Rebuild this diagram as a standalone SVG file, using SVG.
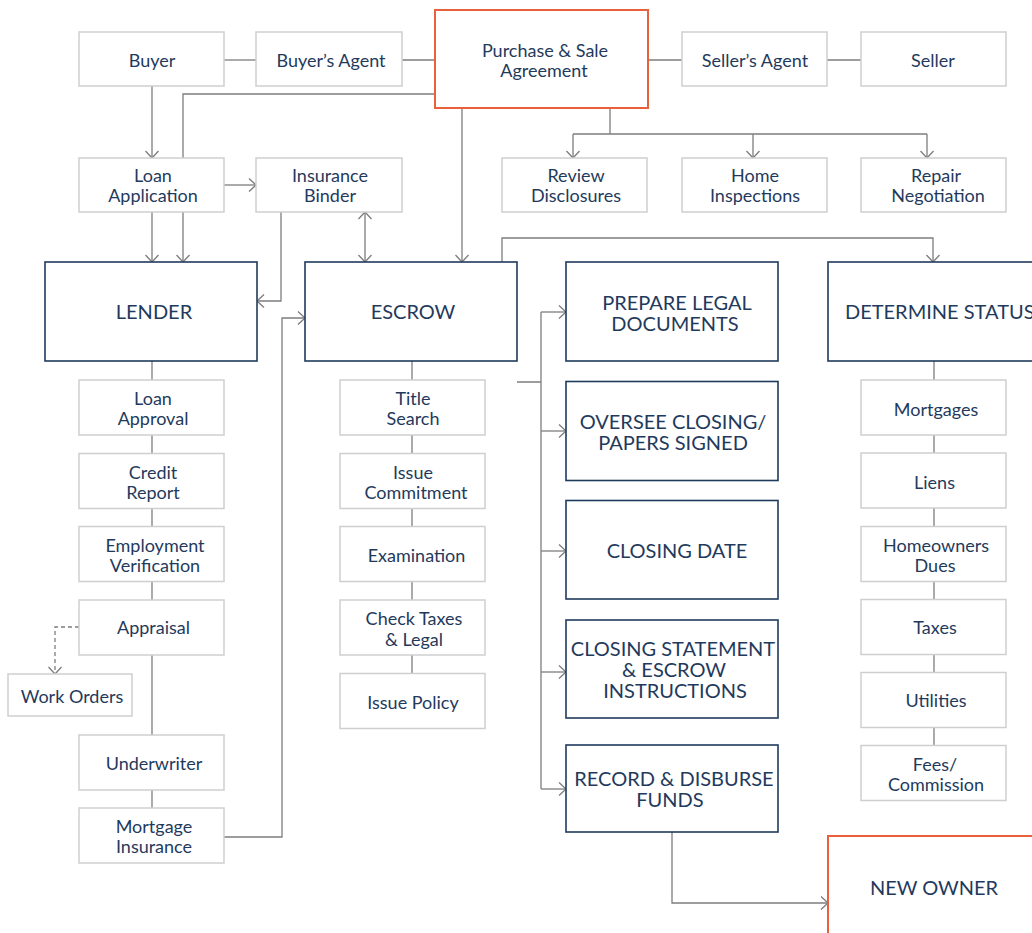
<svg xmlns="http://www.w3.org/2000/svg" width="1032" height="933" viewBox="0 0 1032 933">
<defs>
<style>
.s{fill:#fff;stroke:#cfcfcf;stroke-width:1.5}
.b{fill:#fff;stroke:#1e3a5c;stroke-width:1.6}
.o{fill:#fff;stroke:#e8613c;stroke-width:2}
.t{font-family:Lato,"Liberation Sans",sans-serif;font-size:18px;fill:#1f3a5c;text-anchor:middle}
.T{font-family:Lato,"Liberation Sans",sans-serif;font-size:20px;fill:#1f3a5c;text-anchor:middle}
.c{fill:none;stroke:#7d7d7d;stroke-width:1.3}
.a{marker-end:url(#ar)}
.d{stroke-dasharray:4 3}
</style>
<marker id="ar" markerUnits="userSpaceOnUse" viewBox="-8 -8 10 16" markerWidth="10" markerHeight="16" refX="0" refY="0" orient="auto-start-reverse">
<path d="M-7,-6.5 L0,0 L-7,6.5" fill="none" stroke="#7d7d7d" stroke-width="1.3"/>
</marker>
</defs>
<rect width="1032" height="933" fill="#fff"/>
<g id="connectors">
<path class="c" d="M224,60 H256"/>
<path class="c" d="M402,60 H435"/>
<path class="c" d="M648,60 H682"/>
<path class="c" d="M827,60 H861"/>
<path class="c a" d="M152,86 V158"/>
<path class="c" d="M435,94 H183 V158"/>
<path class="c a" d="M152,212 V262"/>
<path class="c a" d="M183,212 V262"/>
<path class="c a" d="M224,185 H256"/>
<path class="c a" d="M281,212 V301 H257"/>
<path class="c a" style="marker-start:url(#ar)" d="M365,212 V262"/>
<path class="c a" d="M462,108 V262"/>
<path class="c" d="M610,108 V134 M573,134 H927"/>
<path class="c a" d="M573,134 V158"/>
<path class="c a" d="M753,134 V158"/>
<path class="c a" d="M927,134 V158"/>
<path class="c a" d="M502,262 V238 H933 V262"/>
<path class="c" d="M152,361 V808"/>
<path class="c d a" d="M79,627 H55 V674"/>
<path class="c a" d="M224,837 H282 V318 H305"/>
<path class="c" d="M412,361 V673"/>
<path class="c" d="M405,356 L412,349 L419,356"/>
<path class="c" d="M517,382 H541 M541,312 V789"/>
<path class="c a" d="M541,312 H566"/>
<path class="c a" d="M541,431 H566"/>
<path class="c a" d="M541,551 H566"/>
<path class="c a" d="M541,672 H566"/>
<path class="c a" d="M541,789 H566"/>
<path class="c" d="M934,361 V745"/>
<path class="c a" d="M672,832 V903 H828"/>
</g>
<g id="buyer"><rect class="s" x="79" y="32" width="145" height="54"/><text class="t" x="152" y="67">Buyer</text></g>
<g id="buyers-agent"><rect class="s" x="256" y="32" width="146" height="54"/><text class="t" x="331" y="67">Buyer’s Agent</text></g>
<g id="purchase"><rect class="o" x="435" y="10" width="213" height="98"/><text class="t" x="545" y="57">Purchase &amp; Sale</text><text class="t" x="544" y="77">Agreement</text></g>
<g id="sellers-agent"><rect class="s" x="682" y="32" width="145" height="54"/><text class="t" x="755" y="67">Seller’s Agent</text></g>
<g id="seller"><rect class="s" x="861" y="32" width="145" height="54"/><text class="t" x="933" y="67">Seller</text></g>
<g id="loan-application"><rect class="s" x="79" y="158" width="145" height="54"/><text class="t" x="153" y="182">Loan</text><text class="t" x="153" y="202">Application</text></g>
<g id="insurance-binder"><rect class="s" x="256" y="158" width="146" height="54"/><text class="t" x="330" y="182">Insurance</text><text class="t" x="330" y="202">Binder</text></g>
<g id="review"><rect class="s" x="502" y="158" width="145" height="54"/><text class="t" x="576" y="182">Review</text><text class="t" x="576" y="202">Disclosures</text></g>
<g id="home"><rect class="s" x="682" y="158" width="145" height="54"/><text class="t" x="755" y="182">Home</text><text class="t" x="755" y="202">Inspections</text></g>
<g id="repair"><rect class="s" x="861" y="158" width="145" height="54"/><text class="t" x="936" y="182">Repair</text><text class="t" x="938" y="202">Negotiation</text></g>
<g id="lender"><rect class="b" x="45" y="262" width="212" height="99"/><text class="T" x="154" y="319">LENDER</text></g>
<g id="escrow"><rect class="b" x="305" y="262" width="212" height="99"/><text class="T" x="413" y="319">ESCROW</text></g>
<g id="prepare"><rect class="b" x="566" y="262" width="212" height="99"/><text class="T" x="677" y="309.5">PREPARE LEGAL</text><text class="T" x="675" y="330.5">DOCUMENTS</text></g>
<g id="oversee"><rect class="b" x="566" y="381.5" width="212" height="99"/><text class="T" x="673" y="428.5">OVERSEE CLOSING/</text><text class="T" x="673" y="449.5">PAPERS SIGNED</text></g>
<g id="closing-date"><rect class="b" x="566" y="500.5" width="212" height="98.5"/><text class="T" x="677" y="557.5">CLOSING DATE</text></g>
<g id="closing-statement"><rect class="b" x="566" y="620" width="212" height="98"/><text class="T" x="673" y="656">CLOSING STATEMENT</text><text class="T" x="674" y="677">&amp; ESCROW</text><text class="T" x="675" y="698">INSTRUCTIONS</text></g>
<g id="record"><rect class="b" x="566" y="745" width="212" height="87"/><text class="T" x="674" y="786">RECORD &amp; DISBURSE</text><text class="T" x="670" y="807">FUNDS</text></g>
<g id="determine"><rect class="b" x="828" y="262" width="220" height="99"/><text class="T" x="845" y="319" style="text-anchor:start">DETERMINE STATUS</text></g>
<g id="new-owner"><rect class="o" x="828" y="836" width="220" height="120"/><text class="T" x="934" y="895">NEW OWNER</text></g>
<g id="loan-approval"><rect class="s" x="79" y="380" width="145" height="55"/><text class="t" x="153" y="405">Loan</text><text class="t" x="153" y="425">Approval</text></g>
<g id="credit-report"><rect class="s" x="79" y="453.5" width="145" height="55"/><text class="t" x="153" y="478.5">Credit</text><text class="t" x="153" y="498.5">Report</text></g>
<g id="employment"><rect class="s" x="79" y="526.5" width="145" height="55"/><text class="t" x="155" y="551.5">Employment</text><text class="t" x="155" y="571.5">Verification</text></g>
<g id="appraisal"><rect class="s" x="79" y="600" width="145" height="55"/><text class="t" x="153.5" y="634">Appraisal</text></g>
<g id="work-orders"><rect class="s" x="8" y="674" width="124" height="42"/><text class="t" x="72" y="702.5">Work Orders</text></g>
<g id="underwriter"><rect class="s" x="79" y="735" width="145" height="55"/><text class="t" x="154" y="770">Underwriter</text></g>
<g id="mortgage-insurance"><rect class="s" x="79" y="808" width="145" height="55"/><text class="t" x="154" y="833">Mortgage</text><text class="t" x="154" y="853">Insurance</text></g>
<g id="title-search"><rect class="s" x="340" y="380" width="145" height="55"/><text class="t" x="413" y="405">Title</text><text class="t" x="413" y="425">Search</text></g>
<g id="issue-commitment"><rect class="s" x="340" y="453.5" width="145" height="55"/><text class="t" x="413" y="478.5">Issue</text><text class="t" x="416" y="498.5">Commitment</text></g>
<g id="examination"><rect class="s" x="340" y="526.5" width="145" height="55"/><text class="t" x="416.5" y="562">Examination</text></g>
<g id="check-taxes"><rect class="s" x="340" y="600" width="145" height="55"/><text class="t" x="414" y="625">Check Taxes</text><text class="t" x="414" y="645.5">&amp; Legal</text></g>
<g id="issue-policy"><rect class="s" x="340" y="673.5" width="145" height="55"/><text class="t" x="413" y="709">Issue Policy</text></g>
<g id="mortgages"><rect class="s" x="861" y="380" width="145" height="55"/><text class="t" x="936" y="415.5">Mortgages</text></g>
<g id="liens"><rect class="s" x="861" y="453" width="145" height="55"/><text class="t" x="934.5" y="488.5">Liens</text></g>
<g id="homeowners"><rect class="s" x="861" y="526.5" width="145" height="55"/><text class="t" x="936" y="551.5">Homeowners</text><text class="t" x="935" y="571.5">Dues</text></g>
<g id="taxes"><rect class="s" x="861" y="599.5" width="145" height="55"/><text class="t" x="935" y="634">Taxes</text></g>
<g id="utilities"><rect class="s" x="861" y="672.5" width="145" height="55"/><text class="t" x="936" y="707">Utilities</text></g>
<g id="fees"><rect class="s" x="861" y="745.5" width="145" height="55"/><text class="t" x="935" y="770.5">Fees/</text><text class="t" x="936" y="791">Commission</text></g>
</svg>
